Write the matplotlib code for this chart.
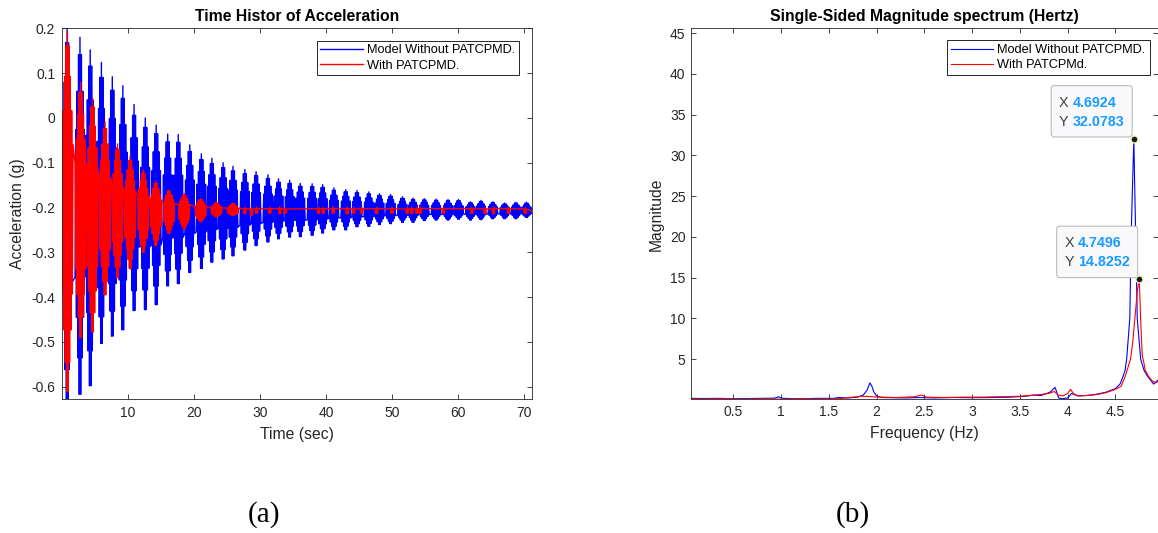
import matplotlib.pyplot as plt
import matplotlib.transforms as mtransforms
from matplotlib.patches import FancyBboxPatch

plt.rcParams["font.family"] = ["Liberation Sans", "DejaVu Sans"]
plt.rcParams["axes.unicode_minus"] = False

# ---- (a) time history: one entry per visible beat burst
rest_level = -0.208      # g, level the record settles to
record_end = 71.2        # s
half_period = 0.1066     # s, half cycle of the ~4.7 Hz response

blue_burst_t = [0.75, 2.7, 4.25, 5.95, 7.6, 9.2, 10.9, 12.6, 14.25, 16.0, 17.6,
                19.35, 21.1, 22.7, 24.4, 25.9, 27.7, 29.4, 31.2, 32.8, 34.5,
                36.1, 37.9, 39.5, 41.2, 43.0, 44.7, 46.5, 48.1, 49.8, 51.6,
                53.2, 54.9, 56.7, 58.5, 60.1, 61.9, 63.5, 65.3, 67.1, 68.8, 70.4]
blue_burst_hi = [0.21, 0.18, 0.152, 0.124, 0.092, 0.072, 0.03, 0.0, -0.016,
                 -0.036, -0.037, -0.06, -0.08, -0.09, -0.1, -0.108, -0.115,
                 -0.12, -0.127, -0.136, -0.139, -0.146, -0.147, -0.149, -0.156,
                 -0.16, -0.162, -0.165, -0.169, -0.171, -0.176, -0.179, -0.18,
                 -0.181, -0.182, -0.182, -0.187, -0.184, -0.187, -0.19, -0.188,
                 -0.188]
blue_burst_lo = [-0.65, -0.617, -0.598, -0.503, -0.487, -0.473, -0.43, -0.428,
                 -0.417, -0.375, -0.37, -0.345, -0.336, -0.322, -0.315, -0.308,
                 -0.295, -0.285, -0.277, -0.27, -0.266, -0.265, -0.262, -0.257,
                 -0.25, -0.25, -0.243, -0.242, -0.238, -0.236, -0.233, -0.233,
                 -0.229, -0.228, -0.228, -0.226, -0.228, -0.227, -0.225, -0.225,
                 -0.225, -0.222]

red_burst_t = [0.8, 2.8, 4.6, 6.5, 8.4, 10.3, 12.3, 14.2, 16.2, 18.5, 21.0,
               23.4, 25.9]
red_burst_hi = [0.193, 0.08, 0.045, -0.008, -0.058, -0.085, -0.116, -0.141,
                -0.16, -0.169, -0.18, -0.188, -0.19]
red_burst_lo = [-0.61, -0.49, -0.478, -0.395, -0.357, -0.336, -0.30, -0.285,
                -0.258, -0.248, -0.232, -0.221, -0.218]

red_blip_t = [27.7, 28.7, 29.5, 31.5, 33.0, 33.8, 38.9, 39.6, 41.1, 43.2, 44.2,
              45.4, 47.7, 50.0, 52.3, 53.0, 53.8, 54.3, 57.8, 62.1, 64.1, 65.4,
              67.7, 70.2]
red_blip_hi = [-0.199, -0.2, -0.199, -0.199, -0.198, -0.2, -0.199, -0.199,
               -0.198, -0.199, -0.2, -0.199, -0.199, -0.199, -0.2, -0.199,
               -0.199, -0.198, -0.199, -0.199, -0.2, -0.198, -0.199, -0.2]
red_blip_lo = [-0.214, -0.218, -0.213, -0.213, -0.214, -0.213, -0.213, -0.213,
               -0.213, -0.214, -0.213, -0.213, -0.213, -0.213, -0.213, -0.214,
               -0.213, -0.213, -0.213, -0.213, -0.213, -0.214, -0.213, -0.213]

# ---- (b) single-sided spectrum
blue_f = [0.057, 0.2, 0.35, 0.5, 0.65, 0.8, 0.93, 0.97, 1.02, 1.2, 1.4, 1.55,
          1.6, 1.7, 1.8, 1.86, 1.9, 1.93, 1.95, 1.97, 2.0, 2.05, 2.15, 2.3, 2.45,
          2.6, 2.8, 3.0, 3.2, 3.4, 3.55, 3.65, 3.72, 3.78, 3.82, 3.85, 3.866,
          3.885, 3.905, 3.94, 4.0, 4.04, 4.07, 4.12, 4.2, 4.3, 4.4, 4.5, 4.55,
          4.57, 4.6, 4.617, 4.65, 4.664, 4.68, 4.6924, 4.70, 4.712, 4.728,
          4.764, 4.8, 4.83, 4.87, 4.9, 4.93, 4.95]
blue_mag = [0.2, 0.18, 0.2, 0.15, 0.18, 0.2, 0.22, 0.38, 0.2, 0.15, 0.2, 0.2,
            0.3, 0.25, 0.35, 0.6, 1.2, 2.1, 1.7, 1.0, 0.5, 0.3, 0.28, 0.25, 0.3,
            0.25, 0.3, 0.28, 0.3, 0.35, 0.45, 0.6, 0.55, 0.8, 1.0, 1.35, 1.55,
            1.0, 0.25, 0.15, 0.25, 0.8, 0.65, 0.5, 0.55, 0.7, 0.95, 1.4, 2.0,
            2.6, 3.6, 5.0, 10.0, 20.0, 27.0, 32.0783, 27.0, 20.0, 10.0, 5.0,
            3.6, 3.0, 2.4, 1.95, 2.3, 2.5]

red_f = [0.057, 0.2, 0.4, 0.6, 0.8, 1.0, 1.2, 1.4, 1.6, 1.75, 1.85, 1.95, 2.05,
         2.2, 2.4, 2.47, 2.52, 2.7, 2.9, 3.1, 3.3, 3.5, 3.6, 3.7, 3.8, 3.86,
         3.9, 3.95, 4.0, 4.03, 4.06, 4.1, 4.2, 4.3, 4.4, 4.5, 4.56, 4.605,
         4.657, 4.68, 4.703, 4.73, 4.7496, 4.763, 4.78, 4.797, 4.81, 4.84, 4.88,
         4.92, 4.95]
red_mag = [0.15, 0.12, 0.15, 0.1, 0.15, 0.1, 0.15, 0.12, 0.15, 0.35, 0.45, 0.4,
           0.35, 0.3, 0.4, 0.6, 0.35, 0.3, 0.35, 0.35, 0.4, 0.45, 0.55, 0.65,
           0.8, 1.05, 0.6, 0.5, 0.8, 1.3, 0.8, 0.5, 0.55, 0.65, 0.9, 1.3, 1.7,
           3.0, 5.0, 7.0, 10.0, 13.5, 14.8252, 10.0, 5.5, 4.6, 3.7, 3.0, 2.4,
           2.1, 2.3]

tips = [(4.6924, 32.0783), (4.7496, 14.8252)]

labels_a = ["Model Without PATCPMD.", "With PATCPMD."]
labels_b = ["Model Without PATCPMD.", "With PATCPMd."]

# look of one burst: relative swing of each half cycle away from the centre
blue_shape = [1.0, 1.0, 0.9, 0.8, 0.69, 0.58, 0.47, 0.36]
red_shape = [1.0, 1.0, 0.92, 0.84, 0.75, 0.66, 0.56, 0.46, 0.37]
blip_shape = [1.0, 1.0, 0.6]

INK = "#262626"


def burst_trace(centres, highs, lows, shape):
    ts, ys = [], []
    n = len(shape) - 1
    for tc, hi, lo in zip(centres, highs, lows):
        for k in range(-n, n + 1):
            f = shape[abs(k)]
            ts.append(tc + k * half_period)
            if k % 2 == 0:
                ys.append(rest_level + f * (hi - rest_level))
            else:
                ys.append(rest_level - f * (rest_level - lo))
    return ts, ys


def matlab_axes(ax, pad):
    for s in ax.spines.values():
        s.set_color(INK)
        s.set_linewidth(0.6)
    ax.tick_params(direction="in", length=3.8, width=0.6, color=INK,
                   labelcolor=INK, labelsize=10, top=True, right=True, pad=pad)


def add_legend(ax, anchor, labels):
    leg = ax.legend(labels, loc="upper right", bbox_to_anchor=anchor,
                    borderaxespad=0, fontsize=9.2, fancybox=False,
                    edgecolor=INK, framealpha=1, handlelength=3.3,
                    handletextpad=0.35, labelspacing=0.25, borderpad=0.3)
    leg.get_frame().set_linewidth(0.7)


def datatip(ax, x, y):
    to_pts = (mtransforms.Affine2D().scale(ax.figure.dpi / 72.0)
              + mtransforms.ScaledTranslation(x, y, ax.transData))
    box = FancyBboxPatch((-59.5, 1.15), 58.3, 37.0,
                         boxstyle="round,pad=0,rounding_size=2.2",
                         transform=to_pts, fc="#f9f9fc", ec="#bcbcbc",
                         lw=0.8, zorder=5, clip_on=False)
    ax.add_patch(box)
    for row, (name, val) in enumerate([("X", x), ("Y", y)]):
        ty = 25.7 - row * 13.7
        ax.text(-54, ty, name, transform=to_pts, fontsize=10.3,
                color="#404040", va="center", ha="left", zorder=6)
        ax.text(-44, ty, f"{val:.4f}", transform=to_pts, fontsize=10.3,
                color="#1a9bff", fontweight="bold", va="center", ha="left",
                zorder=6)
    ax.plot(x, y, "o", ms=5, mfc="#1a1a1a", mec="#f2eebc", mew=1,
            zorder=7, clip_on=False)


fig = plt.figure(figsize=(11.58, 5.33), dpi=100)
ax1 = fig.add_axes([0.0538, 0.2508, 0.4054, 0.696])
ax2 = fig.add_axes([0.5967, 0.2508, 0.4037, 0.696])

# (a)
bt, by = burst_trace(blue_burst_t, blue_burst_hi, blue_burst_lo, blue_shape)
rt, ry = burst_trace(red_burst_t, red_burst_hi, red_burst_lo, red_shape)
pt, py = burst_trace(red_blip_t, red_blip_hi, red_blip_lo, blip_shape)
ax1.plot([0] + bt + [record_end], [rest_level] + by + [rest_level],
         color="blue", lw=1.0)
ax1.plot([0] + rt + pt + [record_end], [rest_level] + ry + py + [rest_level],
         color="red", lw=1.0)
matlab_axes(ax1, pad=5)
ax1.set_xlim(0.02, record_end)
ax1.set_ylim(-0.628, 0.2)
ax1.set_xticks(range(10, 71, 10))
ax1.set_yticks([-0.6, -0.5, -0.4, -0.3, -0.2, -0.1, 0, 0.1, 0.2])
ax1.set_yticklabels(["-0.6", "-0.5", "-0.4", "-0.3", "-0.2", "-0.1", "0",
                     "0.1", "0.2"])
ax1.set_xlabel("Time (sec)", fontsize=11.3, color=INK, labelpad=5)
ax1.set_ylabel("Acceleration (g)", fontsize=11.3, color=INK, labelpad=4.5)
ax1.set_title("Time Histor of Acceleration", fontsize=11.3,
              fontweight="bold", pad=5)
add_legend(ax1, (0.973, 0.967), labels_a)

# (b)
ax2.plot(blue_f, blue_mag, color="blue", lw=0.8)
ax2.plot(red_f, red_mag, color="red", lw=0.8)
for x, y in tips:
    datatip(ax2, x, y)
matlab_axes(ax2, pad=4)
ax2.set_xlim(0.057, 4.95)
ax2.set_ylim(0.08, 45.6)
ax2.set_xticks([0.5, 1, 1.5, 2, 2.5, 3, 3.5, 4, 4.5])
ax2.set_xticklabels(["0.5", "1", "1.5", "2", "2.5", "3", "3.5", "4", "4.5"])
ax2.set_yticks(range(5, 46, 5))
ax2.set_xlabel("Frequency (Hz)", fontsize=11.3, color=INK, labelpad=5)
ax2.set_ylabel("Magnitude", fontsize=11.3, color=INK, labelpad=4.7)
ax2.set_title("Single-Sided Magnitude spectrum (Hertz)", fontsize=11.3,
              fontweight="bold", pad=5)
add_legend(ax2, (0.981, 0.968), labels_b)

fig.text(0.228, 0.035, "(a)", fontsize=21, family="Liberation Serif",
         ha="center", va="center")
fig.text(0.7366, 0.035, "(b)", fontsize=21, family="Liberation Serif",
         ha="center", va="center")

fig.savefig("out.png", dpi=100)
